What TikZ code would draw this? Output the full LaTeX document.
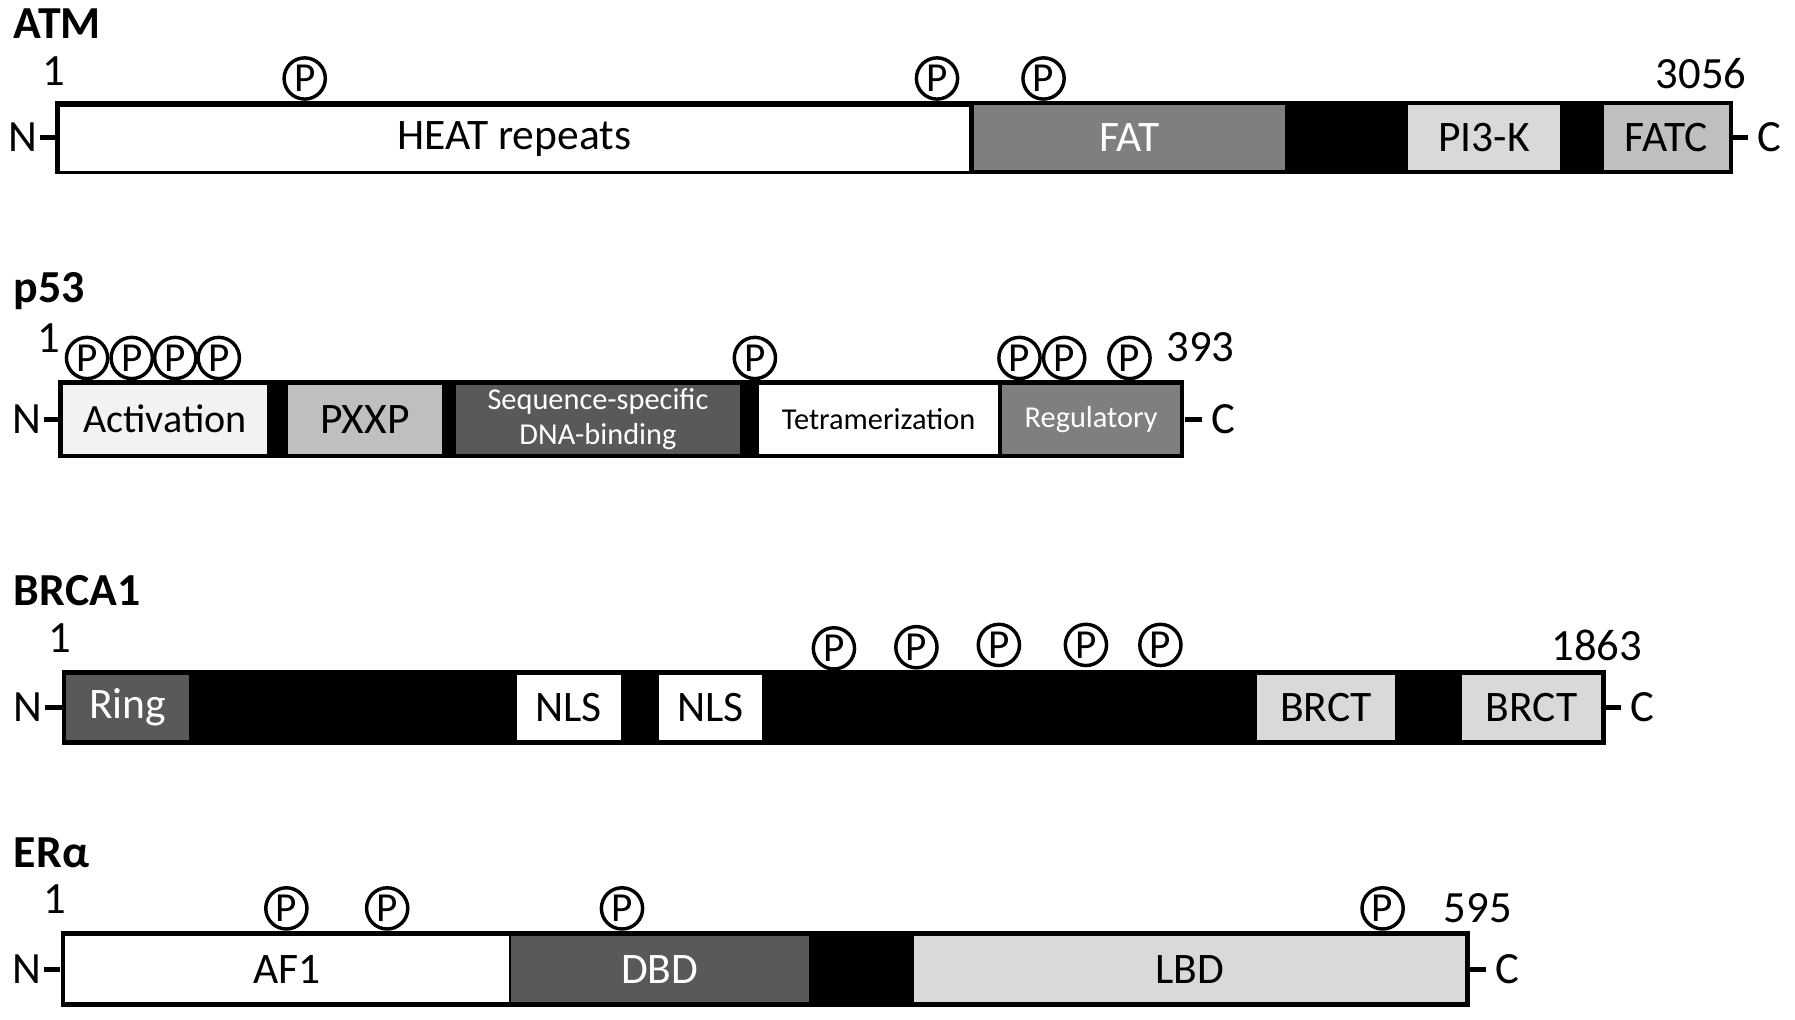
\documentclass[tikz,border=0pt]{standalone}
\usepackage{fontspec}
\setmainfont{Carlito}
\definecolor{cLight}{HTML}{F2F2F2}
\definecolor{cPale}{HTML}{D9D9D9}
\definecolor{cMid}{HTML}{BFBFBF}
\definecolor{cGray}{HTML}{7F7F7F}
\definecolor{cDark}{HTML}{595959}
\begin{document}
\begin{tikzpicture}[x=1pt,y=-1pt,
  bar/.style={rectangle, fill=black, draw=none, inner sep=0pt},
  dom/.style={rectangle, draw=none, inner sep=0pt, font=\fontsize{38}{38}\selectfont},
  smalldom/.style={dom, font=\fontsize{26.5}{30}\selectfont, align=center},
  phos/.style={circle, draw, line width=3pt, fill=white, minimum size=36pt, inner sep=0pt, font=\fontsize{36}{36}\selectfont},
  ttl/.style={anchor=base west, inner sep=0pt, font=\bfseries\fontsize{40}{40}\selectfont},
  num/.style={inner sep=0pt, font=\fontsize{39}{39}\selectfont},
  term/.style={inner sep=0pt, font=\fontsize{39}{39}\selectfont},
  tick/.style={line width=4.5pt}]
\useasboundingbox (0,0) rectangle (1567,889.6);

% ---------------- ATM ----------------
\node[ttl] (tATM) at (12,34) {ATM};
\node[num] (sATM) at (47,62) {1};
\node[num] (eATM) at (1485,64) {3056};
\node[bar, minimum width=1465pt, minimum height=64pt] (atm) at (780.5,120) {};
\node[dom, fill=white, minimum width=794pt, minimum height=56pt] (heat) at (449,121.5) {HEAT repeats};
\node[dom, fill=cGray, text=white, minimum width=272pt, minimum height=56pt] (fat) at (986,120) {FAT};
\node[dom, fill=cPale, minimum width=133pt, minimum height=56pt] (pi3k) at (1295.5,120) {PI3-K};
\node[dom, fill=cMid, minimum width=109pt, minimum height=56pt] (fatc) at (1454.5,120) {FATC};
\node[phos] (pa1) at (266,68.5) {P};
\node[phos] (pa2) at (818,68.5) {P};
\node[phos] (pa3) at (911,68.5) {P};
\node[term, anchor=east] (nATM) at (33,120) {N};
\node[term, anchor=west] (cATM) at (1534,120) {C};
\draw[tick] ([xshift=2pt]nATM.east) -- (atm.west);
\draw[tick] (atm.east) -- ([xshift=-8pt]cATM.west);

% ---------------- p53 ----------------
\node[ttl] (tp53) at (12,264) {p53};
\node[num] (sp53) at (43,295) {1};
\node[num] (ep53) at (1048,303) {393};
\node[bar, minimum width=983pt, minimum height=68pt] (p53) at (542.5,366) {};
\node[dom, fill=cLight, minimum width=178pt, minimum height=60pt, font=\fontsize{35}{35}\selectfont] (act) at (144,366) {Activation};
\node[dom, fill=cMid, minimum width=135pt, minimum height=60pt] (pxxp) at (318.5,366) {PXXP};
\node[smalldom, fill=cDark, text=white, minimum width=248pt, minimum height=60pt] (seq) at (522,366) {Sequence-specific\\DNA-binding};
\node[smalldom, fill=white, minimum width=208pt, minimum height=60pt] (tet) at (767,366) {Tetramerization};
\node[smalldom, fill=cGray, text=white, minimum width=155pt, minimum height=60pt] (reg) at (952.5,366) {Regulatory};
\node[phos] (pb1) at (76,312.5) {P};
\node[phos] (pb2) at (115,312.5) {P};
\node[phos] (pb3) at (153,312.5) {P};
\node[phos] (pb4) at (191,312.5) {P};
\node[phos] (pb5) at (659,312.5) {P};
\node[phos] (pb6) at (890,312.5) {P};
\node[phos] (pb7) at (929,312.5) {P};
\node[phos] (pb8) at (986,312.5) {P};
\node[term, anchor=east] (np53) at (36,366) {N};
\node[term, anchor=west] (cp53) at (1057,366) {C};
\draw[tick] ([xshift=2pt]np53.east) -- (p53.west);
\draw[tick] (p53.east) -- ([xshift=-8pt]cp53.west);

% ---------------- BRCA1 ----------------
\node[ttl] (tbrca) at (12,529) {BRCA1};
\node[num] (sbrca) at (52,557) {1};
\node[num] (ebrca) at (1394,563) {1863};
\node[bar, minimum width=1348pt, minimum height=65pt] (brca) at (728,617.5) {};
\node[dom, fill=cDark, text=white, minimum width=107pt, minimum height=57pt] (ring) at (111.5,617.5) {Ring};
\node[dom, fill=white, minimum width=91pt, minimum height=57pt] (nls1) at (496.5,617.5) {NLS};
\node[dom, fill=white, minimum width=90pt, minimum height=57pt] (nls2) at (620,617.5) {NLS};
\node[dom, fill=cPale, minimum width=121pt, minimum height=57pt] (brct1) at (1157.5,617.5) {BRCT};
\node[dom, fill=cPale, minimum width=122pt, minimum height=57pt] (brct2) at (1337,617.5) {BRCT};
\node[phos] (pc1) at (728,566) {P};
\node[phos] (pc2) at (800,565) {P};
\node[phos] (pc3) at (872,563) {P};
\node[phos] (pc4) at (948,563) {P};
\node[phos] (pc5) at (1013,563) {P};
\node[term, anchor=east] (nbrca) at (37,617.5) {N};
\node[term, anchor=west] (cbrca) at (1423,617.5) {C};
\draw[tick] ([xshift=2pt]nbrca.east) -- (brca.west);
\draw[tick] (brca.east) -- ([xshift=-8pt]cbrca.west);

% ---------------- ERalpha ----------------
\node[ttl] (ter) at (12,757) {ERα};
\node[num] (ser) at (48,785) {1};
\node[num] (eer) at (1290,793) {595};
\node[bar, minimum width=1230pt, minimum height=66pt] (er) at (668,846) {};
\node[dom, fill=white, minimum width=387pt, minimum height=58pt] (af1) at (250.5,846) {AF1};
\node[dom, fill=cDark, text=white, minimum width=260pt, minimum height=58pt] (dbd) at (576,846) {DBD};
\node[dom, fill=cPale, minimum width=481pt, minimum height=58pt] (lbd) at (1038.5,846) {LBD};
\node[phos] (pd1) at (250,793) {P};
\node[phos] (pd2) at (338,793) {P};
\node[phos] (pd3) at (543,793) {P};
\node[phos] (pd4) at (1207,793) {P};
\node[term, anchor=east] (ner) at (36,846) {N};
\node[term, anchor=west] (cer) at (1305,846) {C};
\draw[tick] ([xshift=2pt]ner.east) -- (er.west);
\draw[tick] (er.east) -- ([xshift=-8pt]cer.west);
\end{tikzpicture}
\end{document}
